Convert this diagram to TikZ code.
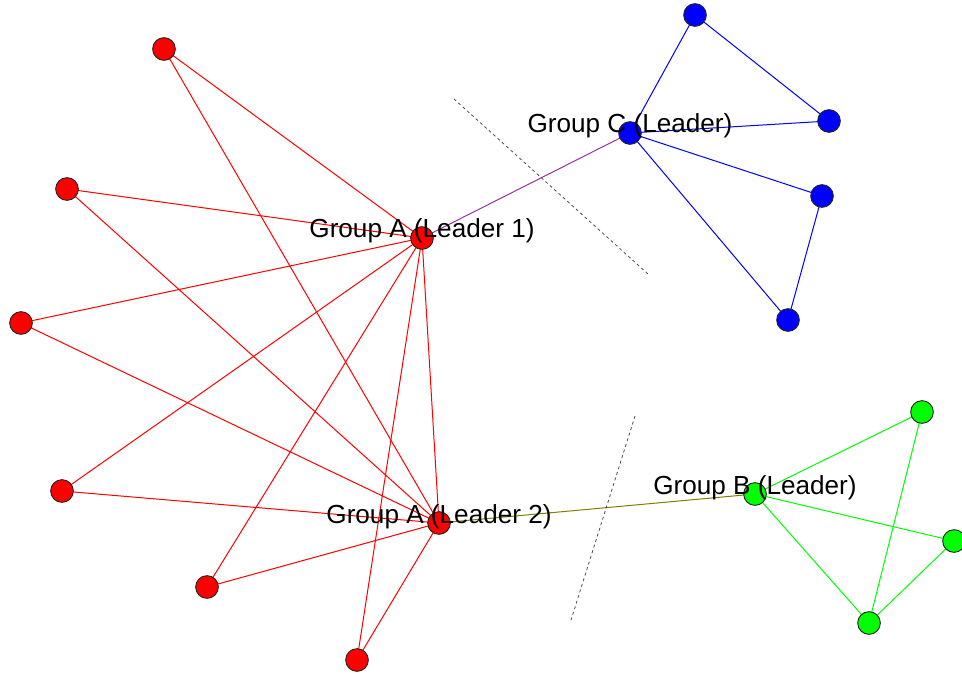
\documentclass[tikz,border=0pt]{standalone}
\usepackage{fontspec}
\setmainfont{Liberation Sans}
\usetikzlibrary{backgrounds}
\begin{document}
\begin{tikzpicture}[x=0.75pt,y=-0.75pt,
  vtx/.style={circle,draw=black!85,line width=0.7pt,minimum size=17pt,inner sep=0pt},
  redv/.style={vtx,fill=red},
  bluev/.style={vtx,fill=blue},
  greenv/.style={vtx,fill=green},
  rl/.style={draw=red,line width=0.75pt},
  bl/.style={draw=blue,line width=0.75pt},
  gl/.style={draw=green,line width=0.75pt},
  lab/.style={anchor=base,inner sep=0pt,font=\fontsize{19.6pt}{21pt}\selectfont,text=black},
  cut/.style={draw=black!70,line width=0.6pt,dash pattern=on 2.2pt off 2.2pt}]
\useasboundingbox (0,0) rectangle (962,677);

% red group
\node[redv] (a1) at (422,238) {};
\node[redv] (a2) at (439,523) {};
\node[redv] (r1) at (164,49) {};
\node[redv] (r2) at (67,189) {};
\node[redv] (r3) at (21,323) {};
\node[redv] (r4) at (62,491) {};
\node[redv] (r5) at (207,587) {};
\node[redv] (r6) at (357,660) {};

% blue group
\node[bluev] (c) at (630,133) {};
\node[bluev] (b1) at (695,15) {};
\node[bluev] (b2) at (829,121) {};
\node[bluev] (b3) at (822,196) {};
\node[bluev] (b4) at (788,320) {};

% green group
\node[greenv] (b) at (755,494) {};
\node[greenv] (g1) at (922,412) {};
\node[greenv] (g2) at (954,541) {};
\node[greenv] (g3) at (869,623) {};

% boundary markers
\coordinate (d1s) at (454,99);
\coordinate (d1e) at (648,274);
\coordinate (d2s) at (635,416);
\coordinate (d2e) at (571,620);

% edges behind the vertices
\begin{pgfonlayer}{background}
\foreach \r in {r1,r2,r3,r4,r5,r6} {
  \path[rl] (\r.center) -- (a1.center);
  \path[rl] (\r.center) -- (a2.center);
}
\path[rl] (a1.center) -- (a2.center);
\path[draw={rgb,255:red,150;green,50;blue,160},line width=0.75pt] (a1.center) -- (c.center);
\path[draw={rgb,255:red,128;green,128;blue,0},line width=0.75pt] (a2.center) -- (b.center);
\path[bl] (c.center) -- (b1.center);
\path[bl] (b1.center) -- (b2.center);
\path[bl] (c.center) -- (b2.center);
\path[bl] (c.center) -- (b3.center);
\path[bl] (c.center) -- (b4.center);
\path[bl] (b3.center) -- (b4.center);
\path[gl] (b.center) -- (g1.center);
\path[gl] (b.center) -- (g2.center);
\path[gl] (b.center) -- (g3.center);
\path[gl] (g1.center) -- (g3.center);
\path[gl] (g2.center) -- (g3.center);

\path[cut] (d1s) -- (d1e);
\path[cut] (d2s) -- (d2e);
\end{pgfonlayer}

% leader labels
\node[lab] (la1) at (a1.center) {Group A (Leader 1)};
\node[lab] (la2) at (a2.center) {Group A (Leader 2)};
\node[lab] (lc) at (c.center) {Group C (Leader)};
\node[lab] (lb) at (b.center) {Group B (Leader)};
\end{tikzpicture}
\end{document}
